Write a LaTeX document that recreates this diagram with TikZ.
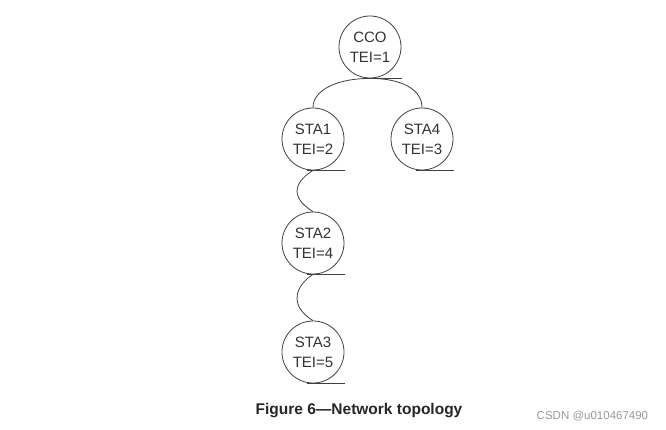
\documentclass[tikz,border=0pt]{standalone}
\usepackage{fontspec}
\setmainfont{Liberation Sans}
\usepackage{tikz}
\usetikzlibrary{positioning}

\begin{document}
\begin{tikzpicture}[x=1pt,y=-1pt,line width=0.8pt,
  station/.style={draw=black!75,circle,inner sep=0pt,minimum size=62pt,align=center,
    font=\fontsize{15}{20}\selectfont,text=black!80},
  link/.style={draw=black!75},
  tail/.style={draw=black!75}]
  \useasboundingbox (0,0) rectangle (666,430);
  % stations
  \node[station] (cco)  at (370,47)  {CCO\\TEI=1};
  \node[station] (sta1) at (313,139) {STA1\\TEI=2};
  \node[station] (sta4) at (422,139) {STA4\\TEI=3};
  \node[station] (sta2) at (313,243) {STA2\\TEI=4};
  \node[station] (sta3) at (313,352) {STA3\\TEI=5};
  % underlines
  \foreach \n in {cco,sta1,sta4,sta2,sta3}
    \draw[tail] (\n.south) ++(-6,0) -- ++(38,0);
  % links
  \draw[link] (cco.south) .. controls +(-32,0) and +(0,-18) .. (sta1.north);
  \draw[link] (cco.south) .. controls +(32,0) and +(0,-18) .. (sta4.north);
  \draw[link] (sta1.south) .. controls +(-16,10) and +(-26,-16) .. (sta2.north);
  \draw[link] (sta2.south) .. controls +(-16,10) and +(-26,-16) .. (sta3.north);
  % caption
  \node[font=\fontsize{15.5}{18}\selectfont\bfseries,text=black!85] (cap) at (359,411)
    {Figure 6---Network topology};
  \node[anchor=west,font=\fontsize{11.5}{14}\selectfont,text=black!40] (mark) at (533,416)
    {CSDN @u010467490};
\end{tikzpicture}
\end{document}
